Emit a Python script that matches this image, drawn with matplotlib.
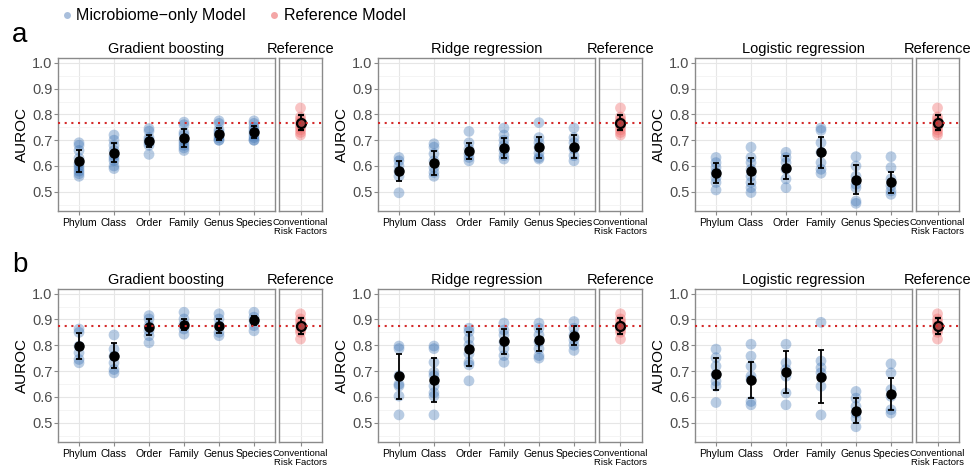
import matplotlib
matplotlib.use('Agg')
import matplotlib.pyplot as plt
from matplotlib.lines import Line2D
from matplotlib.ticker import MultipleLocator

plt.rcParams['font.family'] = ['Liberation Sans', 'DejaVu Sans']

# ==[0] Data
levels = ['Phylum', 'Class', 'Order', 'Family', 'Genus', 'Species']
models = ['Gradient boosting', 'Ridge regression', 'Logistic regression']
ref_label = 'Conventional\nRisk Factors'

# row a
gb_a_pts = [[0.69, 0.68, 0.66, 0.63, 0.61, 0.60, 0.59, 0.58, 0.57, 0.56],
            [0.72, 0.70, 0.68, 0.66, 0.64, 0.63, 0.62, 0.60, 0.59],
            [0.745, 0.735, 0.71, 0.70, 0.69, 0.68, 0.645],
            [0.77, 0.76, 0.73, 0.72, 0.70, 0.69, 0.68, 0.67, 0.66],
            [0.775, 0.765, 0.74, 0.73, 0.72, 0.71, 0.70, 0.70],
            [0.775, 0.765, 0.75, 0.74, 0.73, 0.72, 0.71, 0.70, 0.70]]
gb_a_mean = [0.620, 0.652, 0.697, 0.710, 0.724, 0.733]
gb_a_sd = [0.042, 0.038, 0.022, 0.035, 0.025, 0.023]

rr_a_pts = [[0.633, 0.62, 0.60, 0.58, 0.56, 0.496],
            [0.686, 0.673, 0.647, 0.62, 0.594, 0.575, 0.56],
            [0.734, 0.69, 0.666, 0.647, 0.633, 0.62],
            [0.747, 0.72, 0.70, 0.68, 0.66, 0.64, 0.627],
            [0.768, 0.71, 0.69, 0.673, 0.65, 0.633, 0.627],
            [0.747, 0.71, 0.69, 0.666, 0.64, 0.62]]
rr_a_mean = [0.580, 0.612, 0.658, 0.670, 0.672, 0.675]
rr_a_sd = [0.040, 0.047, 0.032, 0.040, 0.041, 0.044]

lr_a_pts = [[0.633, 0.613, 0.594, 0.575, 0.555, 0.536, 0.507],
            [0.673, 0.633, 0.613, 0.587, 0.56, 0.536, 0.516, 0.497],
            [0.653, 0.633, 0.613, 0.587, 0.55, 0.516],
            [0.747, 0.738, 0.69, 0.653, 0.613, 0.587, 0.572],
            [0.636, 0.60, 0.56, 0.529, 0.516, 0.464, 0.455],
            [0.636, 0.594, 0.55, 0.523, 0.503, 0.49]]
lr_a_mean = [0.573, 0.580, 0.594, 0.653, 0.547, 0.537]
lr_a_sd = [0.039, 0.050, 0.044, 0.059, 0.057, 0.041]

ref_a_pts = [0.825, 0.79, 0.78, 0.77, 0.76, 0.75, 0.74, 0.73, 0.72]
ref_a_mean = 0.768
ref_a_sd = 0.030

# row b
gb_b_pts = [[0.863, 0.85, 0.797, 0.771, 0.745, 0.732],
            [0.84, 0.785, 0.758, 0.732, 0.706, 0.693],
            [0.915, 0.902, 0.876, 0.856, 0.837, 0.81],
            [0.928, 0.902, 0.882, 0.863, 0.843],
            [0.922, 0.902, 0.876, 0.85, 0.837],
            [0.928, 0.909, 0.896, 0.876, 0.856]]
gb_b_mean = [0.797, 0.760, 0.870, 0.880, 0.875, 0.897]
gb_b_sd = [0.052, 0.050, 0.030, 0.022, 0.028, 0.018]

rr_b_pts = [[0.797, 0.787, 0.682, 0.649, 0.642, 0.603, 0.53],
            [0.797, 0.787, 0.734, 0.695, 0.682, 0.642, 0.616, 0.603, 0.53],
            [0.866, 0.853, 0.826, 0.80, 0.767, 0.734, 0.724, 0.662],
            [0.886, 0.859, 0.84, 0.813, 0.787, 0.76, 0.734],
            [0.886, 0.866, 0.84, 0.813, 0.787, 0.76, 0.75],
            [0.892, 0.866, 0.84, 0.82, 0.80, 0.78]]
rr_b_mean = [0.680, 0.665, 0.785, 0.815, 0.822, 0.837]
rr_b_sd = [0.087, 0.085, 0.065, 0.050, 0.043, 0.037]

lr_b_pts = [[0.785, 0.752, 0.719, 0.687, 0.661, 0.641, 0.578],
            [0.804, 0.758, 0.719, 0.68, 0.667, 0.582, 0.569],
            [0.804, 0.732, 0.706, 0.68, 0.615, 0.569],
            [0.889, 0.739, 0.713, 0.693, 0.641, 0.53],
            [0.621, 0.595, 0.563, 0.537, 0.517, 0.484],
            [0.728, 0.693, 0.628, 0.602, 0.55, 0.537]]
lr_b_mean = [0.688, 0.665, 0.695, 0.678, 0.546, 0.610]
lr_b_sd = [0.063, 0.071, 0.081, 0.103, 0.048, 0.062]

ref_b_pts = [0.922, 0.902, 0.89, 0.876, 0.86, 0.85, 0.824]
ref_b_mean = 0.875
ref_b_sd = 0.030

# ==[1] Style
BLUE = '#3b72b4'
RED = '#f06a6a'
LINE_RED = '#d42a2a'
SPINE = '#8a8a8a'
TXT = '#4d4d4d'


def style_ax(ax):
    ax.set_ylim(0.425, 1.02)
    ax.yaxis.set_major_locator(MultipleLocator(0.1))
    ax.yaxis.set_minor_locator(MultipleLocator(0.05))
    ax.grid(which='major', color='#e6e6e6', lw=0.8, zorder=0)
    ax.grid(which='minor', axis='y', color='#f2f2f2', lw=0.6, zorder=0)
    ax.set_axisbelow(True)
    for s in ax.spines.values():
        s.set_color(SPINE)
        s.set_linewidth(1.0)
    ax.tick_params(which='major', length=3, color=SPINE, width=0.8)
    ax.tick_params(which='minor', length=0)
    ax.tick_params(axis='y', labelsize=10.5, labelcolor=TXT, pad=1)
    ax.tick_params(axis='x', labelsize=7.5, labelcolor='black', pad=2)


def draw_group(ax, x, pts, mean, sd, color, alpha):
    ax.scatter([x] * len(pts), pts, s=60, color=color, alpha=alpha,
               edgecolors='none', zorder=3)
    ax.errorbar([x], [mean], yerr=[sd], fmt='o', color='black', ms=6.5,
                capsize=2.5, elinewidth=1.3, capthick=1.3, zorder=4)


rows = [
    ('a', [(gb_a_pts, gb_a_mean, gb_a_sd), (rr_a_pts, rr_a_mean, rr_a_sd),
           (lr_a_pts, lr_a_mean, lr_a_sd)], (ref_a_pts, ref_a_mean, ref_a_sd)),
    ('b', [(gb_b_pts, gb_b_mean, gb_b_sd), (rr_b_pts, rr_b_mean, rr_b_sd),
           (lr_b_pts, lr_b_mean, lr_b_sd)], (ref_b_pts, ref_b_mean, ref_b_sd)),
]

fig = plt.figure(figsize=(9.8, 4.65), dpi=100)

row_bottoms = [0.546, 0.0495]
row_h = 0.330
col_lefts = [0.0592, 0.3857, 0.7092]
main_w = 0.2214
ref_gap = 0.0041
ref_w = 0.0439

for r, (tag, panels, ref) in enumerate(rows):
    b = row_bottoms[r]
    ref_pts, ref_mean, ref_sd = ref
    for c, (pts, means, sds) in enumerate(panels):
        ax = fig.add_axes([col_lefts[c], b, main_w, row_h])
        style_ax(ax)
        xs = list(range(1, len(levels) + 1))
        for x, p, m, s in zip(xs, pts, means, sds):
            draw_group(ax, x, p, m, s, BLUE, 0.36)
        ax.set_xlim(0.4, 6.6)
        ax.set_xticks(xs)
        ax.set_xticklabels(levels)
        ax.axhline(ref_mean, color=LINE_RED, ls=(0, (1, 2.2)), lw=1.5, zorder=5)
        ax.set_ylabel('AUROC', fontsize=11, labelpad=2)
        ax.set_title(models[c], fontsize=10.5, pad=3)

        axr = fig.add_axes([col_lefts[c] + main_w + ref_gap, b, ref_w, row_h])
        style_ax(axr)
        axr.scatter([1] * len(ref_pts), ref_pts, s=60, color=RED, alpha=0.4,
                    edgecolors='none', zorder=3)
        axr.errorbar([1], [ref_mean], yerr=[ref_sd], fmt='o', mfc='#a84545',
                     mec='black', mew=1.6, color='black', ms=6.5, capsize=2.5,
                     elinewidth=1.3, capthick=1.3, zorder=4)
        axr.set_xlim(0.4, 1.6)
        axr.set_xticks([1])
        axr.set_xticklabels([ref_label], fontsize=6.8, linespacing=1.0)
        axr.tick_params(axis='y', labelleft=False, length=0)
        axr.axhline(ref_mean, color=LINE_RED, ls=(0, (1, 2.2)), lw=1.5, zorder=5)
        axr.set_title('Reference', fontsize=10.5, pad=3)

    fig.text(0.012, b + row_h + 0.0345, tag, fontsize=20, va='baseline', ha='left')

handles = [Line2D([], [], marker='o', ls='none', ms=5, color='#a9bfdc', mec='none'),
           Line2D([], [], marker='o', ls='none', ms=5, color='#f4a6a6', mec='none')]
fig.legend(handles, ['Microbiome\u2212only Model', 'Reference Model'], loc='upper left',
           bbox_to_anchor=(0.0633, 0.982), ncol=2, frameon=False, fontsize=11.5,
           borderpad=0, borderaxespad=0, handletextpad=0.3, columnspacing=1.45,
           handlelength=0.6)

fig.savefig('out.png', dpi=100)
